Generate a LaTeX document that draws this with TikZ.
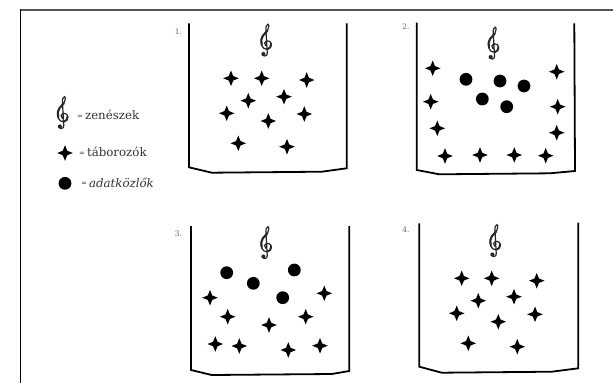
\documentclass[tikz,border=0pt]{standalone}
\usepackage{fontspec}
\newfontfamily\legfont{DejaVu Serif}
\definecolor{legtext}{HTML}{333333}
\definecolor{framegray}{HTML}{555555}
\tikzset{
  wall/.style={line width=1.8pt, line join=miter, black},
  starshape/.pic={\fill[black] (7.8,0) .. controls (5.2,0.9) and (3.3,1.9) .. (2.25,2.25)
      .. controls (1.9,3.3) and (0.9,5.2) .. (0,7.8)
      .. controls (-0.9,5.2) and (-1.9,3.3) .. (-2.25,2.25)
      .. controls (-3.3,1.9) and (-5.2,0.9) .. (-7.8,0)
      .. controls (-5.2,-0.9) and (-3.3,-1.9) .. (-2.25,-2.25)
      .. controls (-1.9,-3.3) and (-0.9,-5.2) .. (0,-7.8)
      .. controls (0.9,-5.2) and (1.9,-3.3) .. (2.25,-2.25)
      .. controls (3.3,-1.9) and (5.2,-0.9) .. (7.8,0) -- cycle;},
  clefshape/.pic={
    \begin{scope}[scale=1.05]
    \draw[black!85, line width=1.2pt, line cap=round]
      (1.2,12) -- (0,-9)
      .. controls (-0.5,-13) and (0.5,-15.5) .. (1.8,-15.5)
      .. controls (3,-15.5) and (3,-12) .. (1.5,-9.5)
      .. controls (0,-7.5) and (-2,-6) .. (-3,-4.5)
      .. controls (-5.5,-1.5) and (-5.5,5) .. (-2,7.5)
      .. controls (1,9) and (4.8,8) .. (5,4.5)
      .. controls (5.2,1.5) and (3,-0.2) .. (0.8,0.2)
      .. controls (-1.5,0.6) and (-2.2,3.5) .. (-0.3,5);
    \draw[black!85, line width=2pt, line cap=round]
      (1.2,-9.2) .. controls (0,-7.5) and (-2,-6) .. (-3,-4.5)
      .. controls (-4.6,-2.5) and (-5,1) .. (-4,4);
    \draw[black!85, line width=1.7pt, line cap=round]
      (4.9,3) .. controls (4.9,5.5) and (3.5,7.8) .. (1.5,8.3);
    \draw[black!85, line width=1.2pt, line cap=round]
      (1.2,12) .. controls (1.5,15.5) and (-3,15.5) .. (-3,13);
    \fill[black!85] (-2.5,12.9) circle (2);
    \end{scope}
  },
  dotnode/.style={circle, fill=black, minimum size=12.8pt, inner sep=0pt},
  numlabel/.style={font=\legfont\fontsize{7.5}{8}\selectfont, text=black!60, inner sep=0pt},
  legtxt/.style={font=\legfont\fontsize{11.8}{13}\selectfont, text=legtext, inner sep=0pt, anchor=west},
}
\newcommand{\smalleq}{\raisebox{1.5pt}{\fontsize{7}{7}\selectfont=}\,}
\begin{document}
\begin{tikzpicture}[x=1pt,y=-1pt]
\useasboundingbox (0,0) rectangle (613,383);
% frame
\draw[framegray, line width=2pt] (19.8,9.5) -- (613,9.5);
\draw[black, line width=1.2pt] (20.5,9) -- (20.5,383);

% legend
\pic at (62.5,113) {clefshape};
\node[legtxt] (lt1) at (77,115) {\smalleq zenészek};
\pic at (65,153) {starshape};
\node[legtxt] (lt2) at (79,152) {\smalleq táborozók};
\node[dotnode] (ldot) at (65,183.3) {};
\node[legtxt] (lt3) at (81,182.5) {\smalleq\itshape adatközlők};

% panel 1
\draw[wall] (189,23.3) -- (189,167.3) -- (211.7,172.7) -- (321.7,171.7) -- (346.7,168.3) -- (346.7,23.3);
\node[numlabel] (n1) at (178.5,31.7) {1.};
\pic at (266,40.5) {clefshape};
\foreach \x/\y in {231/78.3, 261.7/78.3, 306.7/80, 248.3/100.7, 284/96.7, 226.7/113.3, 268.3/121, 304.3/114, 238.3/143.3, 287/146.7}
  \pic at (\x,\y) {starshape};

% panel 2
\draw[wall] (416.7,22.7) -- (416.7,170) -- (439.3,174.3) -- (550,173.3) -- (575,171) -- (574.3,23.3);
\node[numlabel] (n2) at (406,26.7) {2.};
\pic at (493.3,43.5) {clefshape};
\foreach \x/\y in {432.7/68.3, 430.7/101.7, 437.3/128.3, 445/156, 480/155, 514.3/155, 545.7/155.7, 556.7/71.7, 557.7/106.7, 556.7/132.7}
  \pic at (\x,\y) {starshape};
\foreach \x/\y [count=\i] in {466/79.3, 500/81, 524/86, 482.3/99, 506.7/106.7}
  \node[dotnode] (d2-\i) at (\x,\y) {};

% panel 3
\draw[wall] (191,226) -- (191,370) -- (211.7,375) -- (331.7,374) -- (349.3,371) -- (349.3,226);
\node[numlabel] (n3) at (178.5,233.3) {3.};
\pic at (266,243) {clefshape};
\foreach \x/\y in {210/297.7, 227.7/316.7, 269/325, 305.7/316.7, 324.3/293.3, 215.3/344, 239.3/346, 288.3/350, 320/345.7}
  \pic at (\x,\y) {starshape};
\foreach \x/\y [count=\i] in {226.7/272.7, 253.3/283.3, 294.3/270, 282.7/297.7}
  \node[dotnode] (d3-\i) at (\x,\y) {};

% panel 4
\draw[wall] (419.3,223.3) -- (419.3,366.7) -- (441.7,372.7) -- (551.7,371.7) -- (578.3,368.3) -- (578.3,222.7);
\node[numlabel] (n4) at (406,229.3) {4.};
\pic at (495,241) {clefshape};
\foreach \x/\y in {461.7/278.3, 491.7/278.3, 536.7/280.7, 478.3/300.7, 514/296.7, 456.7/313.3, 498.3/321.7, 535/314.3, 468.3/343.3, 517.3/346.7}
  \pic at (\x,\y) {starshape};
\end{tikzpicture}
\end{document}
